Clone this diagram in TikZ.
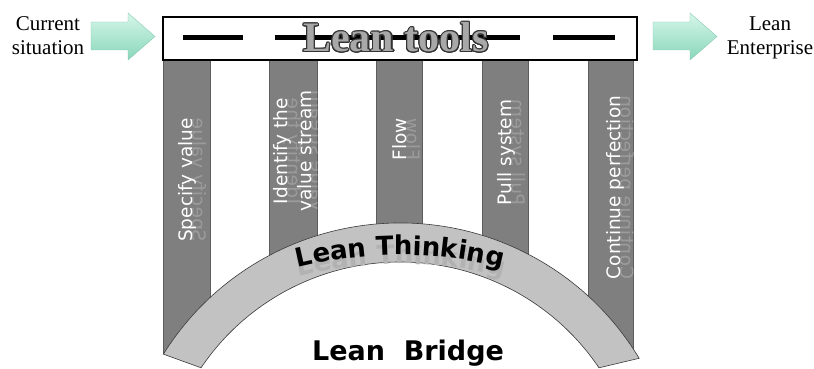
\documentclass[tikz,border=0pt]{standalone}
\usepackage{fontspec}
\setmainfont{Liberation Serif}
\newfontfamily\pillarFont{DejaVu Sans}
\usepackage{contour}
\contourlength{1.1pt}
\usetikzlibrary{decorations.text, calc}
\definecolor{pillarGray}{HTML}{7F7F7F}
\definecolor{pillarEdge}{HTML}{5C5C5C}
\definecolor{archGray}{HTML}{C2C2C2}
\definecolor{archEdge}{HTML}{3A3A3A}
\definecolor{toolsGray}{HTML}{A8A8A8}
\definecolor{mintLight}{HTML}{D6F6EA}
\definecolor{mintDark}{HTML}{88D7BA}
\newcommand\thinkFont{\pillarFont\bfseries\fontsize{26}{26}\selectfont}
\tikzset{
  toolBox/.style = {draw=black, line width=2.5pt, fill=white},
  toolDash/.style = {line width=5pt},
  toolTitle/.style = {text=toolsGray, font=\bfseries\fontsize{42}{42}\selectfont},
  pillar/.style = {fill=pillarGray, draw=pillarEdge, line width=0.6pt},
  arch/.style = {fill=archGray, draw=archEdge, line width=0.6pt},
  mintArrow/.style = {top color=mintLight, bottom color=mintDark,
    draw=mintDark!85!gray, line width=0.4pt},
  sideText/.style = {font=\fontsize{21}{24}\selectfont},
  pillarText/.style = {rotate=90, anchor=base, inner sep=0pt, text=white,
    font=\pillarFont\fontsize{18.5}{22}\selectfont},
  pillarGhost/.style = {pillarText, yscale=-1, opacity=0.22},
  bridgeText/.style = {anchor=base, font=\pillarFont\bfseries\fontsize{27}{27}\selectfont},
}

\begin{document}
\begin{tikzpicture}[x=1pt, y=1pt, every node/.style={align=center}]

\useasboundingbox (0,0) rectangle (814,369);

\foreach \xl/\xr/\yb in {163/210/16, 269/317/100, 376/422/125, 482/528/100, 588/633/18}
  \draw[pillar] (\xl,309) rectangle (\xr,\yb);

\draw[toolBox] (163,309) rectangle (637,352);
\foreach \a/\b in {183/243, 275/520, 553/615}
  \draw[toolDash] (\a,331) -- (\b,331);
\node[toolTitle] (title) at (396,331) {\contour{black!80}{Lean tools}};

\foreach \dx in {0, 562}
  \draw[mintArrow, shift={(\dx,0)}] (91,319) -- (128,319) -- (128,309) -- (155,332.5)
    -- (128,356) -- (128,347) -- (91,347) -- cycle;
\node[sideText] (now) at (48,333) {Current\\situation};
\node[sideText] (goal) at (770,331) {Lean\\Enterprise};

\draw[arch] (400,-133) ++(148:279) arc[start angle=148, end angle=31, radius=279]
  -- ($(400,-133)+(34:240)$) arc[start angle=34, end angle=146, radius=240] -- cycle;

\foreach \n/\x/\y/\txt in {1/192/189/Specify value, 2/287/218/Identify the,
    3/311/218/value stream, 4/406/230/Flow, 5/511/216.5/Pull system,
    6/620/181.5/Continue perfection} {
  \node[pillarGhost] (g\n) at (\x,\y) {\txt};
  \node[pillarText] (t\n) at (\x,\y) {\txt};
}

\path[decorate, decoration={text along path, text align=center, text color=black!30,
    text={|\thinkFont|Lean Thinking}}]
  (401,-319) ++(110:424) arc[start angle=110, end angle=70, radius=424];
\path[decorate, decoration={text along path, text align=center,
    text={|\thinkFont|Lean Thinking}}]
  (400,-310) ++(110:424) arc[start angle=110, end angle=70, radius=424];

\node[bridgeText] (bridge) at (408,8) {Lean~~Bridge};

\end{tikzpicture}
\end{document}
